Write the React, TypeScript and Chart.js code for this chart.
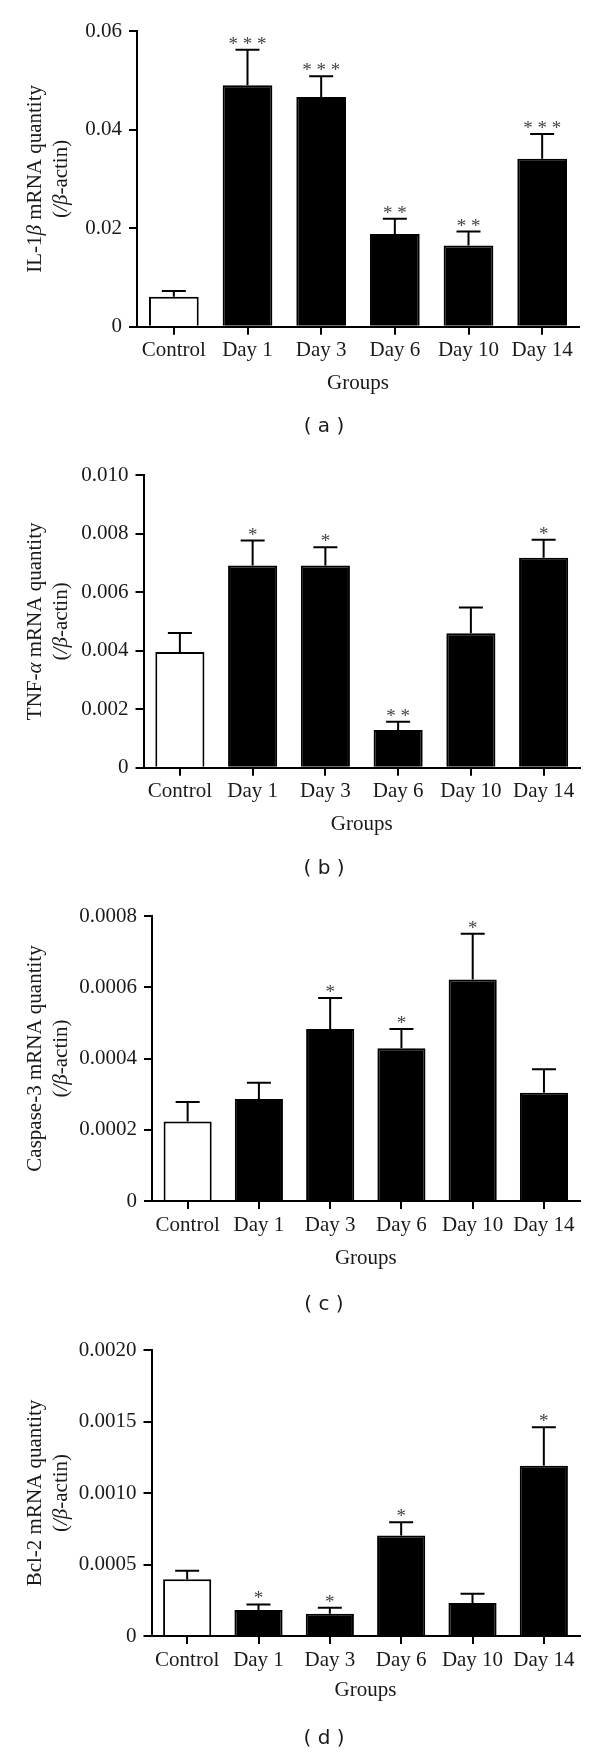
import React, { useEffect, useRef } from 'react';
import { Chart, registerables } from 'chart.js';

Chart.register(...registerables);

// ---------- data ----------
const groups = ['Control', 'Day 1', 'Day 3', 'Day 6', 'Day 10', 'Day 14'];

const il1bMean = [0.0061, 0.049, 0.0466, 0.0188, 0.0165, 0.0341];
const il1bErr = [0.00115, 0.0072, 0.0042, 0.0031, 0.0028, 0.005];
const il1bSig = ['', '***', '***', '**', '**', '***'];
const il1bTicks = [0, 0.02, 0.04, 0.06];
const il1bTickLabels = ['0', '0.02', '0.04', '0.06'];

const tnfMean = [0.00395, 0.00691, 0.00691, 0.00129, 0.00459, 0.00717];
const tnfErr = [0.00065, 0.00085, 0.00062, 0.00028, 0.00088, 0.00062];
const tnfSig = ['', '*', '*', '**', '', '*'];
const tnfTicks = [0, 0.002, 0.004, 0.006, 0.008, 0.01];
const tnfTickLabels = ['0', '0.002', '0.004', '0.006', '0.008', '0.010'];

const casp3Mean = [0.000223, 0.000286, 0.000483, 0.000429, 0.000622, 0.000304];
const casp3Err = [0.000055, 0.000046, 0.000087, 0.000054, 0.000128, 0.000066];
const casp3Sig = ['', '', '*', '*', '*', ''];
const casp3Ticks = [0, 0.0002, 0.0004, 0.0006, 0.0008];
const casp3TickLabels = ['0', '0.0002', '0.0004', '0.0006', '0.0008'];

const bcl2Mean = [0.000396, 0.000182, 0.000156, 0.000702, 0.000231, 0.00119];
const bcl2Err = [0.000061, 0.000039, 0.000042, 0.000093, 0.000065, 0.00027];
const bcl2Sig = ['', '*', '*', '*', '', '*'];
const bcl2Ticks = [0, 0.0005, 0.001, 0.0015, 0.002];
const bcl2TickLabels = ['0', '0.0005', '0.0010', '0.0015', '0.0020'];

const xTitle = 'Groups';
// y-axis titles as [text, italic] segments
type Seg = [string, boolean];
const il1bTitle: Seg[] = [['IL-1', false], ['β', true], [' mRNA quantity', false]];
const tnfTitle: Seg[] = [['TNF-', false], ['α', true], [' mRNA quantity', false]];
const casp3Title: Seg[] = [['Caspase-3 mRNA quantity', false]];
const bcl2Title: Seg[] = [['Bcl-2 mRNA quantity', false]];
const yTitleSecond: Seg[] = [['(', false], ['/β', true], ['-actin)', false]];

// ---------- layout / style ----------
const SERIF = '"Liberation Serif", "Times New Roman", serif';
const SANS = '"DejaVu Sans", Verdana, sans-serif';
const INK = '#1a1a1a';

type Spec = {
  mean: number[]; err: number[]; sig: string[]; ticks: number[]; tickLabels: string[];
  yTitle: Seg[][]; caption: string;
  top: number; height: number; plotTop: number; plotBottom: number; plotLeft: number; plotRight: number;
  groupsOffset: number; captionOffset: number;
};

const panels: Spec[] = [
  {
    mean: il1bMean, err: il1bErr, sig: il1bSig, ticks: il1bTicks, tickLabels: il1bTickLabels,
    yTitle: [il1bTitle, yTitleSecond], caption: '( a )',
    top: 0, height: 440, plotTop: 31, plotBottom: 326.7, plotLeft: 137, plotRight: 579,
    groupsOffset: 56.3, captionOffset: 100.3,
  },
  {
    mean: tnfMean, err: tnfErr, sig: tnfSig, ticks: tnfTicks, tickLabels: tnfTickLabels,
    yTitle: [tnfTitle, yTitleSecond], caption: '( b )',
    top: 440, height: 440, plotTop: 35, plotBottom: 327.7, plotLeft: 143.5, plotRight: 580,
    groupsOffset: 56.3, captionOffset: 100.6,
  },
  {
    mean: casp3Mean, err: casp3Err, sig: casp3Sig, ticks: casp3Ticks, tickLabels: casp3TickLabels,
    yTitle: [casp3Title, yTitleSecond], caption: '( c )',
    top: 880, height: 436, plotTop: 36, plotBottom: 321, plotLeft: 152, plotRight: 579.6,
    groupsOffset: 57.5, captionOffset: 104,
  },
  {
    mean: bcl2Mean, err: bcl2Err, sig: bcl2Sig, ticks: bcl2Ticks, tickLabels: bcl2TickLabels,
    yTitle: [bcl2Title, yTitleSecond], caption: '( d )',
    top: 1316, height: 436, plotTop: 34, plotBottom: 320, plotLeft: 151.5, plotRight: 579.5,
    groupsOffset: 54.5, captionOffset: 102.3,
  },
];

const Y_TITLE_LINE_X = [35, 61.5];
const Y_TITLE_SIZE = 21;

function makeConfig(s: Spec): any {
  const tickFont = { family: SERIF, size: 21, lineHeight: 1.2 };
  const xTitleFont = { family: SERIF, size: 21, lineHeight: 1.2 };
  const xScaleHeight = s.height - s.plotBottom;
  const xTitlePadBottom = xScaleHeight - s.groupsOffset - (xTitleFont.size * xTitleFont.lineHeight) / 2;

  const annotate = {
    id: 'errorsAndCaption',
    afterDatasetsDraw(chart: any) {
      const { ctx, scales, chartArea } = chart;
      const y = scales.y;
      const meta = chart.getDatasetMeta(0);
      const values = chart.data.datasets[0].data as number[];
      ctx.save();
      meta.data.forEach((bar: any, i: number) => {
        const x = bar.x;
        const yBar = bar.y;
        const yErr = y.getPixelForValue(values[i] + s.err[i]);
        ctx.strokeStyle = '#000';
        ctx.lineWidth = 2;
        ctx.lineCap = 'butt';
        ctx.beginPath();
        ctx.moveTo(x, yBar);
        ctx.lineTo(x, yErr);
        ctx.moveTo(x - 12, yErr);
        ctx.lineTo(x + 12, yErr);
        ctx.stroke();
        if (s.sig[i]) {
          ctx.font = `19px ${SERIF}`;
          ctx.fillStyle = '#444';
          ctx.textAlign = 'center';
          ctx.textBaseline = 'alphabetic';
          ctx.fillText(s.sig[i].split('').join(' '), x, yErr);
        }
      });

      // rotated y-axis title with italic Greek letters
      const fontFor = (it: boolean) => `${it ? 'italic ' : ''}${Y_TITLE_SIZE}px ${SERIF}`;
      const midY = (chartArea.top + chartArea.bottom) / 2;
      s.yTitle.forEach((line, li) => {
        let total = 0;
        line.forEach(([t, it]) => { ctx.font = fontFor(it); total += ctx.measureText(t).width; });
        ctx.save();
        ctx.translate(Y_TITLE_LINE_X[li], midY);
        ctx.rotate(-Math.PI / 2);
        ctx.fillStyle = INK;
        ctx.textAlign = 'left';
        ctx.textBaseline = 'middle';
        let cx = -total / 2;
        line.forEach(([t, it]) => {
          ctx.font = fontFor(it);
          ctx.fillText(t, cx, 0);
          cx += ctx.measureText(t).width;
        });
        ctx.restore();
      });

      ctx.font = `20px ${SANS}`;
      ctx.fillStyle = INK;
      ctx.textAlign = 'center';
      ctx.textBaseline = 'middle';
      ctx.fillText(s.caption, 324, chartArea.bottom + s.captionOffset);
      ctx.restore();
    },
  };

  return {
    type: 'bar',
    data: {
      labels: groups,
      datasets: [
        {
          data: s.mean,
          backgroundColor: groups.map((_, i) => (i === 0 ? '#ffffff' : '#000000')),
          borderColor: '#000000',
          borderWidth: 2,
          barPercentage: 0.675,
          categoryPercentage: 1,
        },
      ],
    },
    options: {
      responsive: false,
      animation: false,
      devicePixelRatio: 1,
      layout: { padding: { top: s.plotTop, left: 0, right: 600 - s.plotRight, bottom: 0 } },
      plugins: {
        legend: { display: false },
        tooltip: { enabled: false },
        title: { display: false },
      },
      scales: {
        x: {
          type: 'category',
          offset: true,
          grid: {
            display: true, drawOnChartArea: false, drawTicks: true, tickLength: 8,
            offset: false, color: '#000', lineWidth: 2,
          },
          border: { display: true, color: '#000', width: 2 },
          ticks: { font: tickFont, color: INK, padding: 3.5, maxRotation: 0, autoSkip: false },
          title: {
            display: true, text: xTitle, font: xTitleFont, color: INK,
            padding: { top: 0, bottom: xTitlePadBottom },
          },
          afterFit: (scale: any) => { scale.height = xScaleHeight; },
        },
        y: {
          type: 'linear',
          min: 0,
          max: s.ticks[s.ticks.length - 1],
          grid: {
            display: true, drawOnChartArea: false, drawTicks: true, tickLength: 8,
            color: '#000', lineWidth: 2,
          },
          border: { display: true, color: '#000', width: 2 },
          ticks: {
            font: tickFont, color: INK, padding: 7,
            callback: (_v: any, idx: number) => s.tickLabels[idx],
          },
          afterBuildTicks: (scale: any) => { scale.ticks = s.ticks.map((v) => ({ value: v })); },
          title: { display: false },
          afterFit: (scale: any) => { scale.width = s.plotLeft; },
        },
      },
    },
    plugins: [annotate],
  };
}

function Panel({ spec }: { spec: Spec }) {
  const ref = useRef<HTMLCanvasElement | null>(null);
  useEffect(() => {
    if (!ref.current) return;
    const chart = new Chart(ref.current, makeConfig(spec));
    return () => chart.destroy();
  }, [spec]);
  return (
    <canvas
      ref={ref}
      width={600}
      height={spec.height}
      style={{ position: 'absolute', left: 0, top: spec.top, width: 600, height: spec.height, display: 'block' }}
    />
  );
}

export default function App() {
  return (
    <div style={{ position: 'absolute', left: 0, top: 0, width: 600, height: 1752, background: '#fff' }}>
      {panels.map((p, i) => (
        <Panel key={i} spec={p} />
      ))}
    </div>
  );
}
